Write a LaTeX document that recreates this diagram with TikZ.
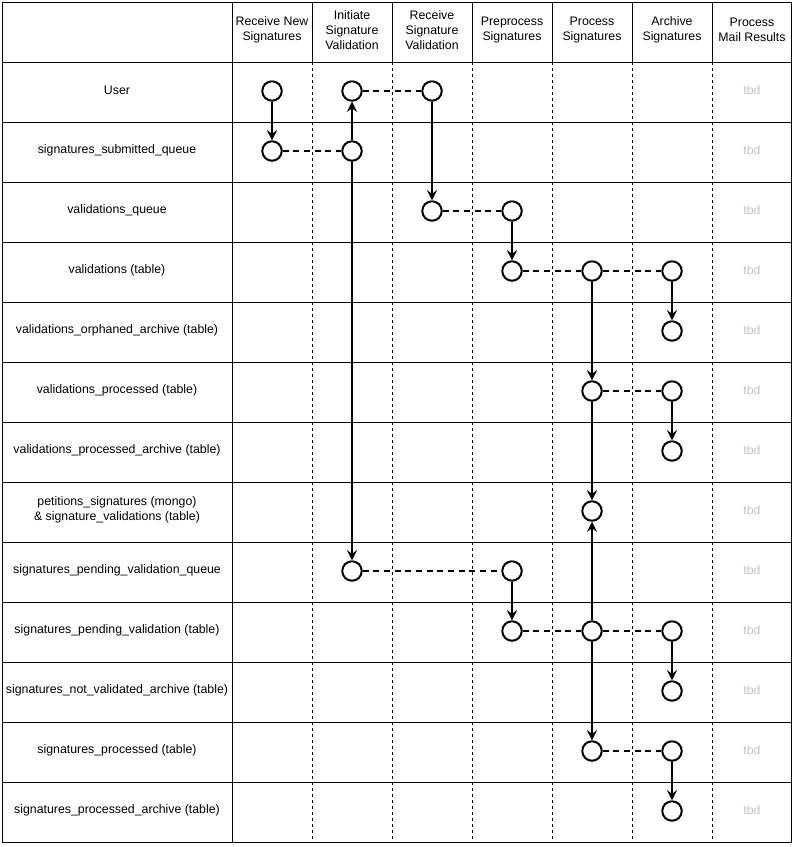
\documentclass[tikz,border=0pt]{standalone}
\usepackage{fontspec}
\setmainfont{Liberation Sans}
\usetikzlibrary{arrows.meta,positioning}

\definecolor{tbdgray}{HTML}{C4C4C4}

\tikzset{
  station/.style={circle, draw, line width=1.5pt, minimum size=14.6pt, inner sep=0pt, fill=white},
  flow/.style={->, line width=1.5pt},
  link/.style={line width=1.5pt, dash pattern=on 4.5pt off 3.5pt},
  sepline/.style={line width=0.75pt, dash pattern=on 2.25pt off 2.25pt},
  head/.style={align=center},
  rowlabel/.style={align=center},
  tbd/.style={text=tbdgray}
}

\begin{document}
\begin{tikzpicture}[x=0.75pt, y=-0.75pt, >={Stealth[length=7.5pt, width=7.5pt, inset=2.5pt]},
    line width=0.75pt, font=\fontsize{9.25pt}{11.25pt}\selectfont]
    \useasboundingbox (0,0) rectangle (793,847);

    % table
    \draw (2,2) rectangle (791,842);
    \foreach \y in {62,122,...,782} \draw (2,\y) -- (791,\y);
    \draw (232,2) -- (232,842);
    \foreach \x in {312,392,...,712} {
        \draw (\x,2) -- (\x,62);
        \draw[sepline] (\x,62) -- (\x,842);
    }

    % column heads
    \foreach \t [count=\i] in {Receive New\\Signatures, Initiate\\Signature\\Validation,
            Receive\\Signature\\Validation, Preprocess\\Signatures, Process\\Signatures,
            Archive\\Signatures, Process\\Mail Results}
        \node[head] (h\i) at ({192+80*\i},30) {\t};

    % row labels
    \foreach \t [count=\i] in {User, signatures\_submitted\_queue, validations\_queue,
            validations (table), validations\_orphaned\_archive (table),
            validations\_processed (table), validations\_processed\_archive (table),
            {petitions\_signatures (mongo)\\ \& signature\_validations (table)},
            signatures\_pending\_validation\_queue, signatures\_pending\_validation (table),
            signatures\_not\_validated\_archive (table), signatures\_processed (table),
            signatures\_processed\_archive (table)} {
        \node[rowlabel] (r\i) at (117,{30+60*\i}) {\t};
        \node[tbd] (tbd\i) at (752,{30+60*\i}) {tbd};
    }

    % stations
    \node[station] (usr1)       at (272,91)  {};
    \node[station] (usr2)       at (352,91)  {};
    \node[station] (usr3)       at (432,91)  {};
    \node[station] (subq1)      at (272,151) {};
    \node[station] (subq2)      at (352,151) {};
    \node[station] (valq3)      at (432,211) {};
    \node[station] (valq4)      at (512,211) {};
    \node[station] (val4)       at (512,271) {};
    \node[station] (val5)       at (592,271) {};
    \node[station] (val6)       at (672,271) {};
    \node[station] (orph6)      at (672,331) {};
    \node[station] (proc5)      at (592,391) {};
    \node[station] (proc6)      at (672,391) {};
    \node[station] (procarch6)  at (672,451) {};
    \node[station] (pet5)       at (592,511) {};
    \node[station] (pendq2)     at (352,571) {};
    \node[station] (pendq4)     at (512,571) {};
    \node[station] (pend4)      at (512,631) {};
    \node[station] (pend5)      at (592,631) {};
    \node[station] (pend6)      at (672,631) {};
    \node[station] (notval6)    at (672,691) {};
    \node[station] (sproc5)     at (592,751) {};
    \node[station] (sproc6)     at (672,751) {};
    \node[station] (sprocarch6) at (672,811) {};

    % hand-overs
    \path[link] (usr2)   edge (usr3)
                (subq1)  edge (subq2)
                (valq3)  edge (valq4)
                (val4)   edge (val5)
                (val5)   edge (val6)
                (proc5)  edge (proc6)
                (pendq2) edge (pendq4)
                (pend4)  edge (pend5)
                (pend5)  edge (pend6)
                (sproc5) edge (sproc6);

    % flows
    \path[flow] (usr1)   edge (subq1)
                (subq2)  edge (usr2)
                         edge (pendq2)
                (usr3)   edge (valq3)
                (valq4)  edge (val4)
                (val6)   edge (orph6)
                (val5)   edge (proc5)
                (proc6)  edge (procarch6)
                (proc5)  edge (pet5)
                (pendq4) edge (pend4)
                (pend5)  edge (pet5)
                         edge (sproc5)
                (pend6)  edge (notval6)
                (sproc6) edge (sprocarch6);
\end{tikzpicture}
\end{document}
